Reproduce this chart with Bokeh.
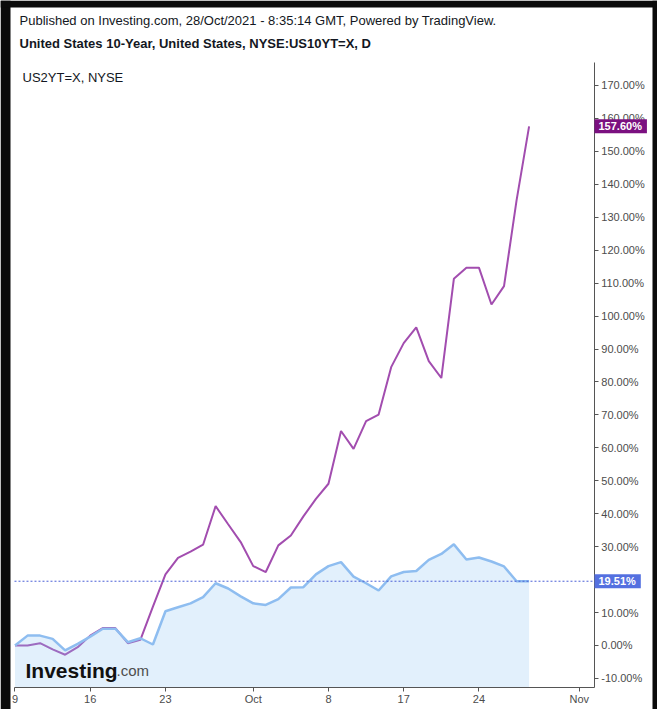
from bokeh.plotting import figure
from bokeh.models import (FixedTicker, PrintfTickFormatter, Label, ColumnDataSource,
                          Range1d, LinearAxis, BoxAnnotation)
from bokeh.embed import file_html
from bokeh.resources import INLINE

# ---- data (percent change since Sep 9, 2021) ----
dates = ["Sep 9", "Sep 10", "Sep 12", "Sep 13", "Sep 14", "Sep 15", "Sep 16", "Sep 17",
         "Sep 19", "Sep 20", "Sep 21", "Sep 22", "Sep 23", "Sep 24", "Sep 26", "Sep 27",
         "Sep 28", "Sep 29", "Sep 30", "Oct 1", "Oct 3", "Oct 4", "Oct 5", "Oct 6",
         "Oct 7", "Oct 8", "Oct 10", "Oct 12", "Oct 13", "Oct 14", "Oct 15", "Oct 17",
         "Oct 18", "Oct 19", "Oct 20", "Oct 21", "Oct 22", "Oct 24", "Oct 25", "Oct 26",
         "Oct 27", "Oct 28"]
us10yt = [0.0, 0.0, 0.7, -1.2, -2.8, -0.5, 3.0, 5.3,
          5.3, 0.7, 1.7, 11.8, 21.6, 26.6, 28.5, 30.6,
          42.3, 36.8, 31.4, 24.1, 22.3, 30.4, 33.4, 39.2,
          44.5, 49.1, 65.1, 59.7, 68.1, 70.1, 84.5, 91.8,
          96.6, 86.3, 81.2, 111.3, 114.7, 114.7, 103.5, 109.1,
          135.1, 157.6]
us2yt = [0.0, 3.0, 3.0, 2.0, -1.5, 0.5, 2.7, 5.1,
         5.1, 1.0, 2.2, 0.3, 10.4, 11.6, 12.8, 14.7,
         18.9, 17.3, 14.9, 12.8, 12.3, 14.1, 17.6, 17.7,
         21.6, 24.1, 25.3, 20.9, 18.9, 16.7, 21.0, 22.3,
         22.6, 26.0, 27.8, 30.7, 26.1, 26.7, 25.5, 24.0,
         19.51, 19.51]
x_ticks = [0, 6, 12, 19, 25, 31, 37, 45]
x_tick_labels = ["9", "16", "23", "Oct", "8", "17", "24", "Nov"]
y_ticks = list(range(-10, 171, 10))
last_us10 = 157.60
last_us2 = 19.51

# ---- view geometry (whole canvas is the frame; axes are pinned inside it) ----
W, H = 657, 709
X_RANGE = (-1.156, 51.24)
Y_RANGE = (-19.43, 195.8)
X_START, X_AXIS = -0.04, 46.2      # plot-area left edge / price-axis position
Y_AXIS, Y_TOP = -12.6, 177.0       # time-axis position / top of price axis
FONT = "Liberation Sans"

src = ColumnDataSource(dict(x=list(range(len(dates))), d=dates, us10=us10yt, us2=us2yt))

p = figure(width=W, height=H, x_range=Range1d(*X_RANGE), y_range=Range1d(*Y_RANGE),
           x_axis_location=None, y_axis_location=None,
           output_backend="svg", toolbar_location=None, min_border=0,
           background_fill_color="white", border_fill_color="white", outline_line_color=None)
p.grid.visible = False

p.line("x", "us10", source=src, line_color="#A24DAF", line_width=2)
p.varea(x="x", y1=Y_AXIS, y2="us2", source=src, fill_color="#90C4F5", fill_alpha=0.26)
p.line("x", "us2", source=src, line_color="#8EBDF0", line_width=2.5)

# last-value dotted line of US2YT, up to the price axis
p.segment(x0=X_START, x1=X_AXIS, y0=last_us2, y1=last_us2,
          line_color="#4A5FD6", line_dash="2 2", line_width=1)

# axes
ya = LinearAxis(fixed_location=X_AXIS, bounds=(Y_AXIS, Y_TOP))
ya.ticker = FixedTicker(ticks=y_ticks)
ya.formatter = PrintfTickFormatter(format="%.2f%%")
xa = LinearAxis(fixed_location=Y_AXIS, bounds=(X_START, X_AXIS))
xa.ticker = FixedTicker(ticks=x_ticks)
xa.major_label_overrides = {t: l for t, l in zip(x_ticks, x_tick_labels)}
for ax in (ya, xa):
    ax.major_tick_in = 0
    ax.major_tick_out = 4
    ax.minor_tick_in = 0
    ax.minor_tick_out = 0
    ax.axis_line_color = "#555555"
    ax.major_tick_line_color = "#555555"
    ax.major_label_text_font = FONT
    ax.major_label_text_font_size = "11px"
    ax.major_label_text_color = "#4c4c4c"
ya.major_label_standoff = 3
xa.major_label_standoff = 2
p.add_layout(ya, "right")
p.add_layout(xa, "below")

# price markers on the axis
for val, col in ((last_us10, "#7B1080"), (last_us2, "#5470E0")):
    p.add_layout(Label(x=594, y=val, x_units="screen", y_units="data",
                       text=f"{val:.2f}%", text_color="white", text_font=FONT,
                       text_font_size="11px", text_font_style="bold", text_align="left",
                       text_baseline="middle", background_fill_color=col,
                       padding=dict(left=4, right=5, top=1, bottom=1)))

# header texts
p.add_layout(Label(x=19, y=H - 20, x_units="screen", y_units="screen",
                   text="Published on Investing.com, 28/Oct/2021 - 8:35:14 GMT, Powered by TradingView.",
                   text_font=FONT, text_font_size="13px", text_color="#131722",
                   text_baseline="middle"))
p.add_layout(Label(x=19, y=H - 43, x_units="screen", y_units="screen",
                   text="United States 10-Year, United States, NYSE:US10YT=X, D",
                   text_font=FONT, text_font_size="13px", text_font_style="bold",
                   text_color="#131722", text_baseline="middle"))
p.add_layout(Label(x=22, y=H - 77, x_units="screen", y_units="screen",
                   text="US2YT=X, NYSE", text_font=FONT, text_font_size="13px",
                   text_color="#131722", text_baseline="middle"))

# logo
p.add_layout(Label(x=25, y=H - 670, x_units="screen", y_units="screen", text="Investing",
                   text_font=FONT, text_font_size="21px", text_font_style="bold",
                   text_color="#111111", text_baseline="alphabetic"))
p.add_layout(Label(x=116, y=H - 670, x_units="screen", y_units="screen", text=".com",
                   text_font=FONT, text_font_size="15px", text_color="#4d4d4d",
                   text_baseline="alphabetic"))

# dark screenshot frame edges
for l, r, b, t in ((0, 10, 0, H), (0, W, H - 7, H), (652, W, 0, H)):
    p.add_layout(BoxAnnotation(left=l, right=r, bottom=b, top=t, left_units="screen",
                               right_units="screen", bottom_units="screen", top_units="screen",
                               fill_color="#0b0b0b", fill_alpha=1, line_color=None))

open("out.html", "w").write(file_html(p, INLINE))
